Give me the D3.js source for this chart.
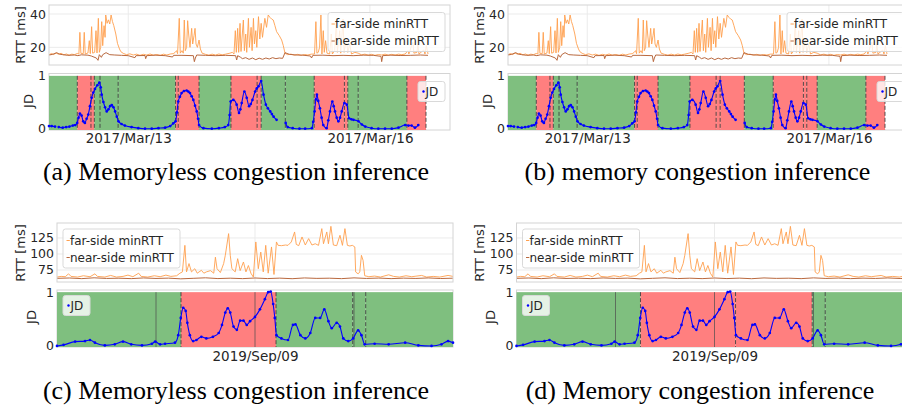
<!DOCTYPE html>
<html>
<head>
<meta charset="utf-8">
<script src="https://cdn.jsdelivr.net/npm/d3@7"></script>
<style>
  body { margin: 0; background: #fff; overflow: hidden; }
  svg text { font-family: "DejaVu Sans", sans-serif; fill: #262626; }
  svg text.cap { font-family: "Liberation Serif", serif; fill: #000; }
</style>
</head>
<body>
<svg id="fig" width="902" height="408"></svg>
<script>
// ---- data: March 2017 link (hours since 2017-03-12 00:00) ----
const farRttA = [
  [0.4,15.6],[1.2,16.3],[1.8,15.7],[2.5,16.6],[3.2,15.9],[4.0,16.4],[4.8,15.5],[5.6,16.0],[6.4,15.3],[7.2,15.9],[8.0,15.6],[8.8,16.3],
  [9.3,16.0],[9.6,29.0],[9.9,16.4],[10.6,16.2],[10.9,29.0],[11.2,16.0],[12.0,16.6],[12.4,24.0],[12.7,16.2],[13.1,32.4],[13.4,16.5],
  [14.0,17.0],[14.4,30.0],[14.7,16.6],[15.1,37.4],[15.4,17.0],[15.8,20.0],[16.1,35.4],[16.4,21.0],[16.8,33.0],[17.1,26.0],[17.3,39.4],
  [17.7,34.4],[18.1,36.5],[18.5,34.0],[18.9,39.4],[19.3,35.5],[19.7,33.0],[20.3,28.0],[20.8,22.4],[21.4,19.0],[21.8,17.4],[22.5,16.4],
  [23.5,15.6],[24.5,16.1],[25.5,15.4],[26.5,15.9],[27.5,15.2],[28.5,15.8],[29.5,15.4],[30.5,16.0],[31.5,15.3],[32.5,15.7],[33.5,15.2],
  [34.5,15.9],[35.5,15.4],[36.5,16.0],[37.4,16.2],[38.0,17.0],[38.4,18.0],[38.7,16.2],[39.2,37.4],[39.5,16.5],[40.0,18.0],[40.4,16.5],
  [40.7,36.4],[41.0,18.0],[41.4,20.0],[41.7,36.0],[42.0,28.0],[42.4,20.0],[42.9,31.4],[43.2,22.0],[43.6,27.0],[43.9,31.4],[44.2,22.0],
  [44.6,20.0],[45.1,24.4],[45.5,19.0],[46.0,16.5],[47.0,15.8],[48.0,15.3],[49.0,15.9],[50.0,15.4],[51.0,16.0],[52.0,15.5],[53.0,15.9],
  [54.3,16.5],[55.0,17.0],[55.5,16.0],[55.9,30.0],[56.2,17.0],[56.6,31.4],[56.9,17.0],[57.3,34.4],[57.6,17.5],[58.3,36.4],[58.6,18.0],
  [59.0,28.0],[59.3,17.0],[59.8,37.4],[60.1,20.0],[60.6,32.0],[60.9,18.0],[61.3,37.4],[61.6,22.0],[62.0,30.0],[62.3,20.0],[62.8,38.4],
  [63.2,25.0],[63.6,34.4],[64.0,26.0],[64.7,37.4],[65.2,32.0],[65.7,39.4],[66.2,38.0],[66.7,37.0],[67.2,36.4],[67.7,33.0],[68.2,29.4],
  [69.0,27.0],[69.7,24.4],[70.2,21.0],[70.7,16.4],[71.5,15.6],[72.5,15.9],[73.5,15.3],[74.5,15.8],[75.5,15.2],[76.5,15.7],[77.5,15.4],
  [78.5,15.9],[79.5,16.0],[79.9,35.4],[80.2,16.5],[80.6,17.0],[81.0,20.0],[81.4,39.4],[81.7,16.0],[82.1,30.0],[82.4,17.0],[82.8,24.0],
  [83.2,16.5],[84.0,16.0],[84.5,28.0],[84.8,16.0],[85.5,18.0],[86.0,36.0],[86.3,17.0],[87.0,30.0],[87.3,16.5],[88.0,37.0],[88.3,17.0],
  [89.0,25.0],[89.4,17.0],[90.0,22.0],[90.5,16.0],[91.5,17.0],[92.5,16.5],[93.5,15.5],[94.5,15.9],[95.5,15.3],[96.5,15.8],[97.5,15.2],
  [98.5,15.7],[99.5,15.4],[100.5,15.9],[101.5,15.3],[102.5,15.8],[103.5,15.4],[104.5,15.9],[105.5,15.6],[106.5,16.0],[107.3,18.0],
  [107.6,16.0],[108.4,21.0],[108.8,23.0],[109.1,16.5],[110.0,17.0],[110.3,22.0],[110.6,16.0],[111.5,17.5],[112.0,18.5],[112.4,16.0],
  [112.8,21.0],[113.3,16.0]
];
const nearRttA = [
  [0.4,15.4],[1.5,15.8],[2.7,16.8],[3.5,15.9],[4.5,15.6],[6.0,15.2],[8.0,15.4],[9.0,15.0],[10.0,15.5],[12.0,15.3],[13.0,14.8],
  [14.5,13.6],[15.0,12.2],[15.4,15.6],[16.0,14.0],[16.4,15.6],[17.4,16.8],[18.5,15.6],[20.0,15.4],[22.0,15.2],[24.0,15.0],[26.0,13.8],
  [26.3,15.0],[29.0,15.1],[29.2,13.2],[29.5,15.0],[32.0,15.3],[35.0,15.0],[37.2,14.2],[37.5,15.2],[40.0,15.2],[43.4,15.0],[43.7,11.4],
  [44.0,13.6],[44.4,15.4],[47.0,15.2],[50.0,15.0],[53.0,15.2],[56.0,15.0],[56.3,12.4],[56.6,15.0],[57.5,14.0],[58.0,13.2],[59.0,13.8],
  [60.0,12.8],[61.0,13.6],[62.0,12.6],[63.0,13.5],[64.0,12.8],[65.0,13.6],[66.0,13.0],[67.0,13.8],[68.0,13.2],[69.0,13.6],[70.0,13.4],
  [70.7,16.8],[72.0,15.8],[74.0,15.4],[76.0,15.3],[78.3,14.8],[78.6,13.6],[79.0,15.2],[82.0,15.3],[85.0,15.0],[88.0,15.2],[91.0,15.0],
  [94.0,15.3],[97.0,15.2],[99.3,14.6],[99.5,11.4],[99.8,15.0],[102.0,15.3],[105.0,15.1],[108.0,15.2],[111.0,15.4],[113.3,15.2]
];
const jdA = [
  [0.4,0.04],[1.2,0.04],[2.2,0.03],[2.8,null],[3.3,0.02],[4.5,0.01],[5.5,0.02],[6.5,0.03],[7.5,0.05],[8.2,0.06],[8.8,0.1],[9.2,0.2],
  [9.6,0.28],[10.1,0.24],[10.6,0.13],[11.1,0.1],[11.6,0.18],[12.1,0.26],[12.6,0.42],[13.1,0.58],[13.6,0.68],[14.1,0.75],[14.8,0.82],
  [15.4,0.87],[15.8,0.78],[16.1,0.64],[16.6,0.5],[17.1,0.4],[17.6,0.32],[18.1,0.36],[18.6,0.42],[19.1,0.44],[19.6,0.4],[20.1,0.32],
  [20.6,0.22],[21.1,0.13],[22.0,0.08],[23.0,0.05],[25.0,0.02],[27.0,0.0],[29.0,-0.01],[31.0,-0.01],[33.0,0.0],[35.0,0.01],[36.5,0.04],
  [37.4,0.09],[38.1,0.13],[38.5,0.3],[38.9,0.51],[39.4,0.6],[39.9,0.67],[40.6,0.71],[41.4,0.72],[41.9,0.7],[42.4,0.67],[42.9,0.61],
  [43.4,0.54],[43.9,0.43],[44.4,0.32],[44.8,0.18],[45.1,0.06],[46.4,0.0],[48.9,-0.01],[51.0,0.0],[52.8,0.02],[53.8,0.06],[54.2,0.25],
  [54.5,0.51],[55.3,0.54],[56.3,0.45],[57.0,0.29],[57.4,0.36],[57.8,0.48],[58.6,0.7],[59.3,0.58],[60.0,0.42],[60.5,0.46],[61.0,0.54],
  [61.8,0.7],[62.3,0.76],[62.8,0.8],[63.6,0.9],[64.3,0.64],[65.0,0.45],[65.6,0.38],[66.3,0.32],[66.8,0.27],[67.3,0.22],[68.2,0.16],
  [68.6,null],[70.9,0.1],[71.5,0.02],[73.0,0.0],[75.0,-0.01],[76.7,-0.01],[78.7,0.0],[79.1,0.12],[79.5,0.32],[79.9,0.55],[80.2,0.64],
  [80.6,0.52],[81.1,0.38],[81.6,0.2],[82.1,0.06],[83.1,0.0],[83.6,0.15],[84.1,0.32],[84.8,0.51],[85.2,0.42],[85.6,0.32],[86.1,0.2],
  [86.6,0.13],[87.1,0.2],[87.6,0.32],[88.4,0.48],[89.1,0.45],[89.8,0.19],[90.5,0.17],[91.1,0.16],[92.6,0.13],[93.6,0.07],[94.6,0.03],
  [96.5,0.0],[98.5,-0.01],[100.5,-0.01],[102.5,-0.01],[104.5,0.01],[106.5,0.06],[107.5,0.05],[108.4,0.05],[109.4,0.01],[110.4,0.06]
];
// change points and state of each segment (1 = congested)
const edgesA = [0.4, 8.83, 12.9, 13.9, 15.6, 21.0, 38.1, 38.9, 45.1, 54.6, 62.4, 63.6, 70.8, 79.4, 88.4, 89.4, 92.5, 107.0, 112.7];
const statesA = [0, 1, 1, 0, 0, 0, 1, 1, 0, 1, 1, 0, 0, 1, 1, 0, 0, 1];
const statesB = [0, 1, 1, 0, 0, 0, 1, 1, 0, 1, 1, 1, 0, 1, 1, 1, 0, 1];
const xTicksA = ["2017-03-13", "2017-03-16"];
const rttTicksA = [20, 40];

// ---- data: September 2019 link (hours since 2019-09-08 00:00) ----
const farRttC = [
  [0,64],[0.5,65],[1,64.5],[1.4,69],[1.7,65],[2.5,64],[3.2,66],[4,64.5],[4.6,69],[4.9,65],[5.8,64],[6.5,66.5],[7.2,64],[8,65],
  [8.6,67],[9.2,64.5],[9.9,70],[10.2,65],[11,64],[11.8,66],[12.5,64.5],[13.2,67],[13.8,65],[14.5,66],[14.9,70],[15.2,72],[15.5,113.5],
  [15.7,72],[16.0,85],[16.3,72],[16.7,77],[17.0,70],[17.5,74.5],[17.8,70],[18.1,72],[18.6,74],[19.0,70],[19.2,95],[19.4,77],[19.8,71],
  [20.2,85],[20.4,98],[20.8,131.8],[21.0,98],[21.2,77],[21.6,72],[21.9,92.7],[22.2,74],[22.6,87.5],[22.9,72],[23.2,82],[23.5,70],
  [23.8,64],[24.1,118.8],[24.4,77],[24.7,103],[25.0,72],[25.3,113.5],[25.6,70],[26.0,111],[26.3,68],[26.6,118.8],[26.8,113.5],
  [27.2,113],[27.7,114],[28.0,113.5],[28.4,118.8],[28.8,134.4],[29.0,115],[29.3,113],[29.7,126.6],[30.1,114],[30.5,124],[30.9,114],
  [31.3,116],[31.7,113.5],[32.1,139.6],[32.3,116],[32.7,134.4],[32.9,116],[33.2,143.2],[33.5,114],[33.9,113],[34.3,129.2],[34.6,113.5],
  [34.9,139.6],[35.2,113.5],[35.5,112.5],[35.8,113.5],[36.1,111],[36.2,71.9],[36.5,69],[36.7,72],[36.9,97.9],[37.1,90],[37.3,66],
  [37.8,64.5],[38.5,65.5],[39.2,64],[40.2,67.5],[40.8,65],[41.5,64],[42.3,66],[43,64.5],[44.2,66.5],[44.8,64],[45.6,65],[46.4,64],
  [47.4,66.5],[48,65]
];
const nearRttC = [
  [0,62],[1.5,62.5],[3,61.5],[4.5,62.8],[6,61.8],[7.5,62.2],[9,61.5],[10.5,62.6],[12,61.8],[13.5,62.3],[15,61.2],[16.5,62],[18,62.8],
  [19.5,61.6],[21,62.2],[22.5,61.5],[24,62.5],[25.5,61.6],[27,62.3],[28.5,61.4],[30,62.6],[31.5,61.9],[33,62.2],[34.5,61.5],[36,62.7],
  [37.5,61.8],[39,62.4],[40.5,61.5],[42,62.3],[43.5,61.8],[45,62.6],[46.5,61.7],[48,62.2]
];
const jdC = [
  [0,0.0],[0.8,0.02],[2.2,0.08],[3.4,0.09],[4,0.11],[4.6,0.06],[5.8,0.01],[7,0.03],[8,0.08],[9,0.03],[10.3,0.01],[11.5,0.04],[11.9,0.08],
  [12.5,0.03],[13.1,0.04],[14.3,0.06],[14.7,0.2],[15.0,0.52],[15.3,0.71],[15.6,0.65],[15.8,0.43],[16.1,0.2],[16.5,0.09],[16.9,0.11],
  [17.5,0.17],[18.1,0.14],[18.9,0.17],[19.6,0.24],[20,0.39],[20.4,0.62],[20.7,0.7],[21,0.62],[21.4,0.36],[21.8,0.3],[22.2,0.47],
  [22.6,0.47],[23,0.39],[23.4,0.46],[24,0.54],[24.6,0.68],[25.2,0.87],[25.6,1.0],[25.9,1.01],[26.2,0.78],[26.4,0.52],[26.6,0.2],
  [27.2,0.14],[28,0.11],[28.6,0.39],[28.9,0.4],[29.5,0.2],[30.1,0.14],[30.7,0.24],[31.3,0.52],[31.9,0.52],[32.4,0.68],[32.9,0.46],
  [33.3,0.33],[33.9,0.43],[34.3,0.36],[34.7,0.14],[35.3,0.09],[35.9,0.14],[36.5,0.29],[36.9,0.2],[37.3,0.03],[38.5,0.04],[40.2,0.03],
  [42.2,0.06],[43.8,0.01],[45.4,0.0],[46.6,0.03],[47.4,0.09],[48,0.06]
];
const edgesC = [0, 15.03, 26.55, 35.84, 37.42, 48];
const statesC = [0, 1, 0, 0, 0];
const statesD = [0, 1, 1, 0, 0];
const marksC = [12, 24, 36];
const xTicksC = ["2019-09-09"];
const rttTicksC = [75, 100, 125];
const jdTicks = [0, 1];

const captions = [
  "(a) Memoryless congestion inference",
  "(b) memory congestion inference",
  "(c) Memoryless congestion inference",
  "(d) Memory congestion inference"
];

// ---- layout ----
const layoutA = {
  start: "2017-03-12", hours: [0.4, 119.85],
  x0: 49, x1: 450, rt: 5, rb: 65, jt: 73.5, jb: 130,
  rttDomain: [9.4, 45.4], jdDomain: [-0.035, 1.045],
  xPad: 3, rttLabel: [20, 35], jdLabel: [28.5, 101], capY: 180,
  rttLegend: [328, 12.5], jdLegend: [418, 81.5]
};
const layoutC = {
  start: "2019-09-08", hours: [0, 48],
  x0: 57, x1: 453, rt: 223, rb: 282, jt: 290, jb: 347,
  rttDomain: [56.25, 148.4], jdDomain: [-0.02, 1.04],
  xPad: 4.7, rttLabel: [20, 253], jdLabel: [31, 317], capY: 399,
  rttLegend: [63, 229], jdLegend: [63, 295.5]
};

const svg = d3.select("#fig");
const parseDay = d3.timeParse("%Y-%m-%d");
const fmtDay = d3.timeFormat("%Y/%b/%d");
const farColor = "#ffa04f", nearColor = "#b9693f";
const green = "#7fbf7f", red = "#ff7f7f";
let clipId = 0;

function styleAxis(sel, size) {
  sel.select(".domain").remove();
  sel.selectAll("text").attr("font-family", null).style("font-size", size + "px").attr("fill", "#262626");
}

function drawSubplot(ox, L, far, near, jd, edges, states, marks, xTicks, rttTicks, caption, capX) {
  const g = svg.append("g").attr("transform", `translate(${ox},0)`);
  const t0 = parseDay(L.start);
  const toDate = h => new Date(t0.getTime() + h * 3600e3);
  const x = d3.scaleTime().domain(L.hours.map(toDate)).range([L.x0, L.x1]);
  const yR = d3.scaleLinear().domain(L.rttDomain).range([L.rb, L.rt]);
  const yJ = d3.scaleLinear().domain(L.jdDomain).range([L.jb, L.jt]);
  const tickDates = xTicks.map(parseDay);
  const w = L.x1 - L.x0;

  // ---------- RTT panel ----------
  g.append("rect").attr("x", L.x0).attr("y", L.rt).attr("width", w).attr("height", L.rb - L.rt)
    .attr("fill", "#fff");
  g.selectAll(".hgrid").data(rttTicks).join("line").attr("class", "hgrid")
    .attr("x1", L.x0).attr("x2", L.x1).attr("y1", d => yR(d)).attr("y2", d => yR(d))
    .attr("stroke", "#ebebeb");
  g.selectAll(".vgrid").data(tickDates).join("line").attr("class", "vgrid")
    .attr("x1", d => x(d)).attr("x2", d => x(d)).attr("y1", L.rt).attr("y2", L.rb)
    .attr("stroke", "#ebebeb");

  const cid = "clip" + (clipId++);
  g.append("clipPath").attr("id", cid).append("rect")
    .attr("x", L.x0).attr("y", L.rt).attr("width", w).attr("height", L.rb - L.rt);
  const rttLine = d3.line().x(d => x(toDate(d[0]))).y(d => yR(d[1]));
  g.append("path").datum(far).attr("clip-path", `url(#${cid})`).attr("d", rttLine)
    .attr("fill", "none").attr("stroke", farColor).attr("stroke-width", 1).attr("stroke-opacity", 0.9);
  g.append("path").datum(near).attr("clip-path", `url(#${cid})`).attr("d", rttLine)
    .attr("fill", "none").attr("stroke", nearColor).attr("stroke-width", 1);

  g.append("rect").attr("x", L.x0).attr("y", L.rt).attr("width", w).attr("height", L.rb - L.rt)
    .attr("fill", "none").attr("stroke", "#d4d4d4");

  g.append("g").attr("transform", `translate(${L.x0},0)`)
    .call(d3.axisLeft(yR).tickValues(rttTicks).tickSize(0).tickPadding(3))
    .call(s => styleAxis(s, 12.5));

  // legend (RTT)
  const lg = g.append("g").attr("transform", `translate(${L.rttLegend[0]},${L.rttLegend[1]})`);
  lg.append("rect").attr("width", 117).attr("height", 39).attr("rx", 2.5)
    .attr("fill", "#fff").attr("fill-opacity", 0.8).attr("stroke", "#d9d9d9");
  [["far-side minRTT", farColor], ["near-side minRTT", nearColor]].forEach(([name, col], i) => {
    const yy = 11.5 + i * 17;
    lg.append("line").attr("x1", 3.5).attr("x2", 6.8).attr("y1", yy).attr("y2", yy)
      .attr("stroke", col).attr("stroke-width", 1);
    lg.append("text").attr("x", 7).attr("y", yy).attr("dy", "0.35em")
      .style("font-size", "12px").text(name);
  });

  // ---------- JD panel ----------
  g.append("rect").attr("x", L.x0).attr("y", L.jt).attr("width", w).attr("height", L.jb - L.jt)
    .attr("fill", "#fff").attr("stroke", "#d4d4d4");
  g.selectAll(".span").data(states).join("rect").attr("class", "span")
    .attr("x", (d, i) => x(toDate(edges[i])))
    .attr("width", (d, i) => x(toDate(edges[i + 1])) - x(toDate(edges[i])))
    .attr("y", yJ(1)).attr("height", L.jb - yJ(1))
    .attr("fill", d => d ? red : green);
  g.selectAll(".mark").data(marks).join("line").attr("class", "mark")
    .attr("x1", d => x(toDate(d))).attr("x2", d => x(toDate(d)))
    .attr("y1", yJ(1)).attr("y2", L.jb).attr("stroke", "#4d4d4d").attr("stroke-opacity", 0.7);
  // dashed change points: every interior edge, plus the last one if it stops short of the axis
  const cps = edges.slice(1).filter(h => h < L.hours[1] - 1);
  g.selectAll(".cp").data(cps).join("line").attr("class", "cp")
    .attr("x1", d => x(toDate(d))).attr("x2", d => x(toDate(d)))
    .attr("y1", yJ(1)).attr("y2", L.jb)
    .attr("stroke", "#3a3a3a").attr("stroke-opacity", 0.85).attr("stroke-dasharray", "4,2");

  const jdLine = d3.line().defined(d => d[1] !== null).curve(d3.curveMonotoneX)
    .x(d => x(toDate(d[0]))).y(d => yJ(d[1]));
  g.append("path").datum(jd).attr("d", jdLine)
    .attr("fill", "none").attr("stroke", "#0000ff").attr("stroke-width", 1.1);
  g.selectAll(".jd").data(jd.filter(d => d[1] !== null)).join("circle").attr("class", "jd")
    .attr("cx", d => x(toDate(d[0]))).attr("cy", d => yJ(d[1])).attr("r", 1.35).attr("fill", "#0000ff");

  g.append("g").attr("transform", `translate(${L.x0},0)`)
    .call(d3.axisLeft(yJ).tickValues(jdTicks).tickFormat(d3.format("d")).tickSize(0).tickPadding(3))
    .call(s => styleAxis(s, 12.5));
  g.append("g").attr("transform", `translate(0,${L.jb})`)
    .call(d3.axisBottom(x).tickValues(tickDates).tickFormat(fmtDay).tickSize(0).tickPadding(L.xPad))
    .call(s => styleAxis(s, 13.5));

  // legend (JD)
  const jl = g.append("g").attr("transform", `translate(${L.jdLegend[0]},${L.jdLegend[1]})`);
  jl.append("rect").attr("width", 27).attr("height", 20).attr("rx", 2.5)
    .attr("fill", "#fff").attr("fill-opacity", 0.8).attr("stroke", "#d9d9d9");
  jl.append("circle").attr("cx", 5.5).attr("cy", 10).attr("r", 1.2).attr("fill", "#0000ff");
  jl.append("text").attr("x", 7.5).attr("y", 10).attr("dy", "0.35em").style("font-size", "12px").text("JD");

  // axis titles
  g.append("text").attr("transform", `translate(${L.rttLabel[0]},${L.rttLabel[1]}) rotate(-90)`)
    .attr("text-anchor", "middle").attr("dy", "0.35em").style("font-size", "13px").text("RTT [ms]");
  g.append("text").attr("transform", `translate(${L.jdLabel[0]},${L.jdLabel[1]}) rotate(-90)`)
    .attr("text-anchor", "middle").attr("dy", "0.35em").style("font-size", "13px").text("JD");

  // caption (absolute x)
  svg.append("text").attr("class", "cap").attr("x", capX).attr("y", L.capY)
    .attr("text-anchor", "middle").style("font-size", "26px").text(caption);
}

drawSubplot(0,     layoutA, farRttA, nearRttA, jdA, edgesA, statesA, [], xTicksA, rttTicksA, captions[0], 236);
drawSubplot(459,   layoutA, farRttA, nearRttA, jdA, edgesA, statesB, [], xTicksA, rttTicksA, captions[1], 697.5);
drawSubplot(0,     layoutC, farRttC, nearRttC, jdC, edgesC, statesC, marksC, xTicksC, rttTicksC, captions[2], 236);
drawSubplot(459.5, layoutC, farRttC, nearRttC, jdC, edgesC, statesD, marksC, xTicksC, rttTicksC, captions[3], 700);
</script>
</body>
</html>
